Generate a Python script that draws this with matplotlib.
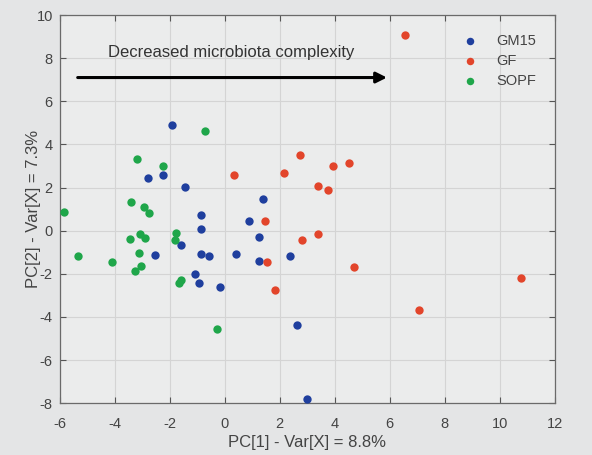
import matplotlib.pyplot as plt

plt.rcParams['font.family'] = ['Liberation Sans', 'DejaVu Sans']
plt.rcParams['axes.unicode_minus'] = False

# PCA scores
gm15_x = [-1.92, -2.80, -2.26, -1.45, 1.40, -0.85, 0.87, -0.85, 1.24, -1.59,
          -2.52, -0.85, -0.57, 0.41, 1.25, 2.39, -1.10, -0.92, -0.18, 2.64, 3.00]
gm15_y = [4.88, 2.44, 2.59, 2.04, 1.48, 0.74, 0.46, 0.08, -0.28, -0.66,
          -1.14, -1.08, -1.17, -1.10, -1.40, -1.16, -2.02, -2.45, -2.62, -4.38, -7.79]

gf_x = [6.55, 2.75, 3.95, 4.52, 0.32, 2.15, 3.38, 3.77, 1.46, 2.80,
        3.40, 1.55, 4.71, 1.82, 10.76, 7.06]
gf_y = [9.06, 3.50, 3.01, 3.12, 2.59, 2.69, 2.07, 1.88, 0.46, -0.42,
        -0.17, -1.44, -1.68, -2.75, -2.18, -3.69]

sopf_x = [-0.71, -3.18, -2.24, -5.85, -3.40, -2.92, -2.76, -3.43, -3.09, -2.90,
          -1.78, -1.81, -5.34, -4.10, -3.12, -3.05, -3.25, -1.60, -1.65, -0.27]
sopf_y = [4.61, 3.32, 2.99, 0.86, 1.34, 1.10, 0.82, -0.37, -0.14, -0.32,
          -0.09, -0.42, -1.16, -1.45, -1.02, -1.65, -1.85, -2.31, -2.42, -4.55]

groups = ['GM15', 'GF', 'SOPF']
colors = ['#1f3f9e', '#e2452b', '#1fa64a']

fig = plt.figure(figsize=(5.92, 4.55), dpi=100, facecolor='#e4e5e6')
ax = fig.add_axes([0.101, 0.114, 0.836, 0.853])
ax.set_facecolor('#ebecec')

for name, xs, ys, c in zip(groups, [gm15_x, gf_x, sopf_x], [gm15_y, gf_y, sopf_y], colors):
    ax.scatter(xs, ys, s=36, color=c, label=name, zorder=3, linewidths=0)

ax.set_xlim(-6, 12)
ax.set_ylim(-8, 10)
ax.set_xticks(range(-6, 13, 2))
ax.set_yticks(range(-8, 11, 2))
ax.grid(True, color='#d4d4d4', linewidth=0.8)
ax.set_axisbelow(True)
ax.tick_params(direction='in', top=True, right=True, labelsize=10.5,
               colors='#555555', labelcolor='#444444', length=4, pad=5)
ax.tick_params(axis='x', pad=10)
for sp in ax.spines.values():
    sp.set_color('#6a6a6a')
    sp.set_linewidth(0.9)

ax.set_xlabel('PC[1] - Var[X] = 8.8%', fontsize=12, color='#444444', labelpad=3)
ax.set_ylabel('PC[2] - Var[X] = 7.3%', fontsize=12, color='#444444', labelpad=-3)

# arrow with caption
ax.annotate('', xy=(6.0, 7.1), xytext=(-5.45, 7.1),
            arrowprops=dict(arrowstyle='-|>', color='black', lw=2.2,
                            mutation_scale=16))
ax.text(0.25, 8.25, 'Decreased microbiota complexity', ha='center', va='center',
        fontsize=12, color='#333333')

leg = ax.legend(loc='upper right', frameon=False, fontsize=10.5, handletextpad=1.0,
                markerscale=0.9, borderaxespad=0.9, labelspacing=0.4,
                handlelength=1.6)
for t in leg.get_texts():
    t.set_color('#444444')

fig.savefig('out.png', dpi=100, facecolor=fig.get_facecolor())
